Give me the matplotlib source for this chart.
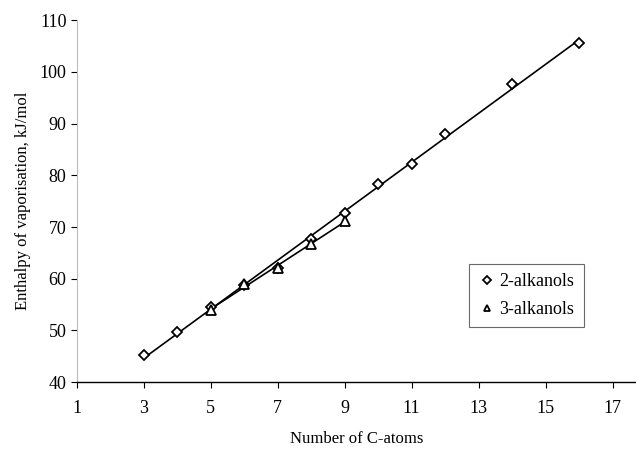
import numpy as np
import matplotlib
matplotlib.use("Agg")
import matplotlib.pyplot as plt

plt.rcParams['font.family'] = ['Liberation Serif', 'DejaVu Serif']

x2 = [3, 4, 5, 6, 7, 8, 9, 10, 11, 12, 14, 16]
y2 = [45.3, 49.7, 54.5, 58.7, 62.0, 67.6, 72.8, 78.4, 82.2, 88.0, 97.7, 105.6]
x3 = [5, 6, 7, 8, 9]
y3 = [54.0, 59.0, 62.0, 66.7, 71.2]
xticks = [1, 3, 5, 7, 9, 11, 13, 15, 17]
yticks = [40, 50, 60, 70, 80, 90, 100, 110]

fig = plt.figure(figsize=(6.36, 4.49), dpi=100)
ax = fig.add_axes([0.121, 0.149, 0.879, 0.806])

for xs, ys in ((x2, y2), (x3, y3)):
    p = np.polyfit(xs, ys, 1)
    xx = np.array([min(xs), max(xs)])
    ax.plot(xx, np.polyval(p, xx), color='black', lw=1.2, zorder=2)

ax.plot(x2, y2, ls='none', marker='D', ms=5.5, mfc='white', mec='black', mew=1.3,
        label='2-alkanols', zorder=3)
ax.plot(x3, y3, ls='none', marker='^', ms=6.5, mfc='white', mec='black', mew=1.3,
        label='3-alkanols', zorder=3)

ax.set_xlim(1, 17.7)
ax.set_ylim(40, 110)
ax.set_xticks(xticks)
ax.set_yticks(yticks)
ax.tick_params(labelsize=13, direction='out', length=4, width=0.8, colors='black')
ax.tick_params(axis='x', pad=9)
ax.spines['top'].set_visible(False)
ax.spines['right'].set_visible(False)
ax.spines['left'].set_color('#bbbbbb')
ax.spines['left'].set_linewidth(0.8)
ax.spines['bottom'].set_linewidth(1.0)

ax.set_xlabel('Number of C-atoms', fontsize=12, labelpad=10)
ax.set_ylabel('Enthalpy of vaporisation, kJ/mol', fontsize=12, labelpad=6)

leg = ax.legend(loc='upper left', bbox_to_anchor=(0.685, 0.35), fontsize=13,
                frameon=True, fancybox=False, edgecolor='#444444', handletextpad=0.2,
                handlelength=1.0, borderpad=0.5, labelspacing=0.6, markerscale=0.75)
leg.get_frame().set_linewidth(0.8)

fig.savefig('out.png', dpi=100)
